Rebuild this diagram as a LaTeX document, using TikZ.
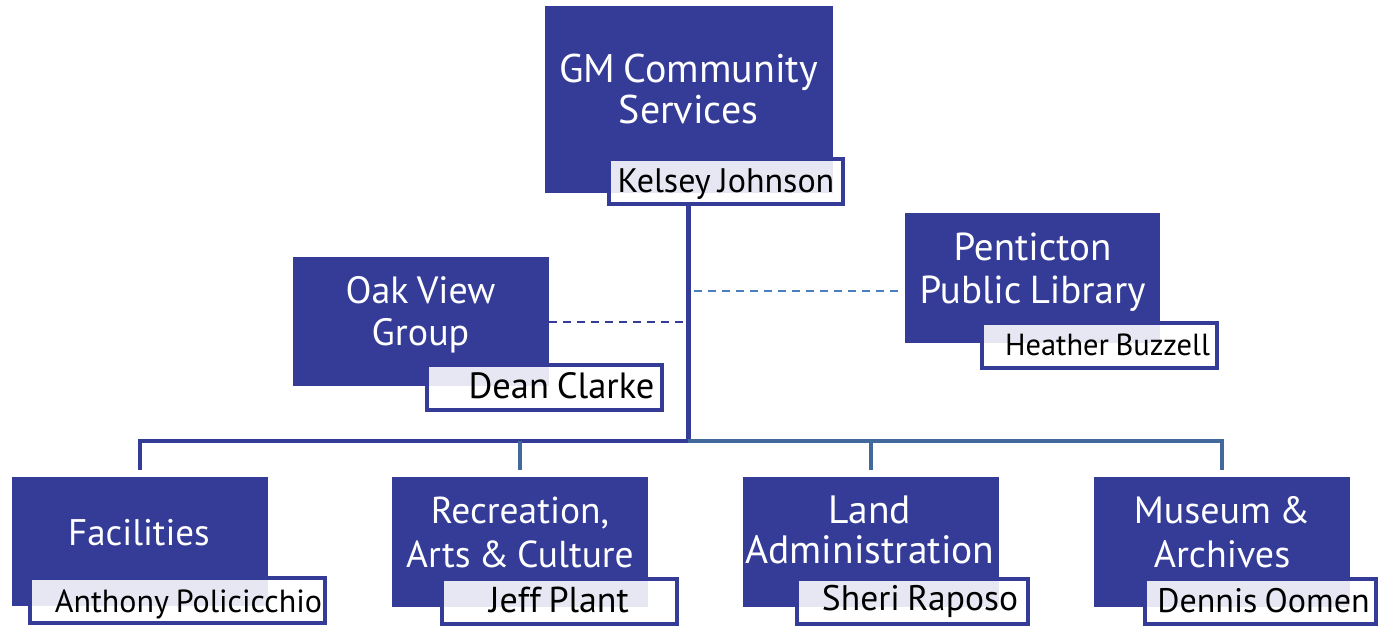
\documentclass[tikz,border=0pt]{standalone}
\usepackage{fontspec}
\setmainfont[WordSpace=0.8]{PT Sans}
\usetikzlibrary{backgrounds}
\definecolor{navy}{RGB}{52,60,152}
\definecolor{steel}{RGB}{65,105,155}
\definecolor{dashblue}{RGB}{74,126,193}
\newcommand{\fs}[2]{\fontsize{#1}{#2}\selectfont}
\begin{document}
\begin{tikzpicture}[x=1pt,y=-1pt,
  unitbox/.style={fill=navy, draw=none, inner sep=0pt, minimum width=256pt, minimum height=130pt},
  title/.style={text=white, inner sep=0pt, anchor=base},
  namebox/.style={draw=navy, line width=4pt, fill=white, fill opacity=0.88, inner sep=0pt, minimum height=45pt},
  person/.style={text=black, inner sep=0pt, anchor=base},
  navyline/.style={draw=navy, line width=4pt},
  steelline/.style={draw=steel, line width=4pt},
  dashlink/.style={line width=2pt, dash pattern=on 8pt off 6pt}
]
\useasboundingbox (0,0) rectangle (1378,627);

% main boxes
\node[unitbox, minimum width=288pt, minimum height=187pt] (gm) at (689,99.5) {};
\node[unitbox, minimum height=129pt] (oak) at (421,321.5) {};
\node[unitbox, minimum width=255pt] (pent) at (1032.5,278) {};
\node[unitbox, minimum height=129pt] (fac) at (140,541.5) {};
\node[unitbox] (rec) at (520,542) {};
\node[unitbox] (land) at (871,542) {};
\node[unitbox] (mus) at (1222,542) {};

% titles
\node[title, font=\fs{40}{41}] (gmt) at (688.5,82) {\begin{tabular}[t]{@{}c@{}}GM Community\\Services\end{tabular}};
\node[title, font=\fs{38}{42}] (oakt) at (420.5,303) {\begin{tabular}[t]{@{}c@{}}Oak View\\Group\end{tabular}};
\node[title, font=\fs{39}{43}] (pentt) at (1032.5,260) {\begin{tabular}[t]{@{}c@{}}Penticton\\Public Library\end{tabular}};
\node[title, font=\fs{37}{42}] (fact) at (139,545) {Facilities};
\node[title, font=\fs{37.5}{44}] (rect) at (520,523) {\begin{tabular}[t]{@{}c@{}}Recreation,\\Arts \& Culture\end{tabular}};
\node[title, font=\fs{39.5}{40}] (landt) at (870,523) {\begin{tabular}[t]{@{}c@{}}Land\\Administration\end{tabular}};
\node[title, font=\fs{38}{44}] (must) at (1222,523) {\begin{tabular}[t]{@{}c@{}}Museum \&\\Archives\end{tabular}};

% name boxes
\node[namebox, minimum width=234pt] (kname) at (726,181.5) {};
\node[namebox, minimum width=235pt] (dname) at (544.5,387.5) {};
\node[namebox, minimum width=235pt] (hname) at (1099.5,345.5) {};
\node[namebox, minimum width=295pt] (aname) at (177.5,600.5) {};
\node[namebox, minimum width=235pt] (jname) at (559.5,601.5) {};
\node[namebox, minimum width=231pt] (sname) at (912.5,601.5) {};
\node[namebox, minimum width=231pt] (dnname) at (1260.5,601.5) {};

% person names
\node[person, font=\fs{34}{40}] (kt) at (726,192) {Kelsey Johnson};
\node[person, font=\fs{36.5}{40}] (dt) at (561.5,398) {Dean Clarke};
\node[person, font=\fs{30.5}{34}] (ht) at (1107.5,355) {Heather Buzzell};
\node[person, font=\fs{32}{36}] (at) at (188.5,612) {Anthony Policicchio};
\node[person, font=\fs{36}{40}] (jt) at (559,612) {Jeff Plant};
\node[person, font=\fs{35.5}{40}] (st) at (920,610) {Sheri Raposo};
\node[person, font=\fs{34}{40}] (dnt) at (1263.5,612) {Dennis Oomen};

\coordinate (hub) at (688,441);

% connectors
\begin{scope}[on background layer]
\draw[navyline, line width=5pt] (hub |- kname.south) -- (hub);
\draw[navyline] (hub) -- (hub -| fac.north) -- ([yshift=7pt]fac.north);
\draw[steelline] (hub) -- (hub -| mus.north) -- ([yshift=7pt]mus.north);
\draw[steelline] (hub -| rec.north) -- ([yshift=7pt]rec.north);
\draw[steelline] (hub -| land.north) -- ([yshift=7pt]land.north);
\draw[dashlink, draw=navy] (oak.east) -- ([xshift=-2pt]oak.east -| hub);
\coordinate (pd) at ([yshift=-13pt]pent.west);
\draw[dashlink, draw=dashblue] ([xshift=-7pt]pd) -- ([xshift=6pt]pd -| hub);
\end{scope}
\end{tikzpicture}
\end{document}
